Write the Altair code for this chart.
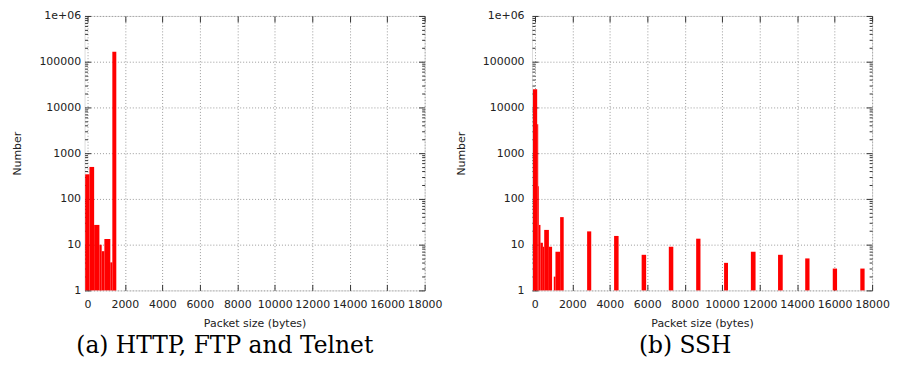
import altair as alt
import pandas as pd

# ---------------- data ----------------
# (a) HTTP, FTP and Telnet : histogram bins (bytes) and counts
a_start = [-117, 111, 361, 642, 764, 907, 1225, 1332]
a_end = [111, 361, 642, 764, 907, 1225, 1332, 1544]
a_count = [345, 500, 27, 10, 7.2, 13.3, 4.1, 165000]

# (b) SSH
b_start = [-100, 125, 180, 220, 300, 430, 500, 750, 1010, 1100, 1350,
           2790, 4230, 5700, 7150, 8610, 10100, 11530, 12980, 14430, 15900, 17370]
b_end = [125, 180, 220, 300, 430, 500, 750, 920, 1100, 1350, 1540,
         3010, 4470, 5940, 7390, 8840, 10310, 11780, 13230, 14660, 16130, 17600]
b_count = [25000, 4300, 190, 27, 11, 9, 21, 9, 2, 7, 40,
           19.5, 15.5, 6, 9, 13.5, 4, 7, 6, 5, 3, 3]

x_major = [0, 2000, 4000, 6000, 8000, 10000, 12000, 14000, 16000, 18000]
y_major = [1, 10, 100, 1000, 10000, 100000, 1000000]
y_minor = [m * 10 ** k for k in range(6) for m in range(2, 10)]

W, H = 342, 276
XDOM = [-150, 18000]
YDOM = [1, 1000000]
TICK = "#333333"
FS = 11
GRID = dict(grid=True, gridColor="#9a9a9a", gridDash=[1, 2], gridWidth=1)
TXT = dict(labelFont="DejaVu Sans", labelFontSize=FS, labelColor="#222222",
           titleFont="DejaVu Sans", titleFontSize=FS, titleFontWeight="normal",
           titleColor="#222222", labelOverlap=False, labelFlush=False)


def panel(start, end, count, caption, dx, label_pad):
    df = pd.DataFrame({"start": start, "end": end, "count": count})
    xs = alt.Scale(domain=XDOM, nice=False, zero=False)
    ys = alt.Scale(type="log", domain=YDOM, nice=False)
    base = alt.Chart(df)

    bars = base.mark_rect(color="#ff0000").encode(
        x=alt.X("start:Q", scale=xs, axis=alt.Axis(
            values=x_major, title="Packet size (bytes)", ticks=False,
            domain=False, labelPadding=8, titlePadding=8, format="d",
            **GRID, **TXT)),
        x2="end:Q",
        y=alt.Y("count:Q", scale=ys, axis=alt.Axis(
            values=y_major, title="Number", ticks=False, domain=False,
            labelPadding=label_pad, titlePadding=16,
            labelExpr="datum.value >= 1000000 ? '1e+06' : format(datum.value, 'd')",
            **GRID, **TXT)),
        y2=alt.Y2Datum(1),
    )

    def ticks(xaxis, yaxis):
        return base.mark_point(opacity=0).encode(
            x=alt.X("start:Q", scale=xs, axis=xaxis),
            y=alt.Y("count:Q", scale=ys, axis=yaxis),
        )

    def tax(orient, values, size):
        return alt.Axis(orient=orient, values=values, offset=-size, tickSize=size,
                        labels=False, domain=False, grid=False, title=None,
                        tickColor=TICK, tickWidth=1)

    l1 = ticks(tax("bottom", x_major, 6), tax("left", y_major, 6))
    l2 = ticks(tax("top", x_major, 6), tax("left", y_minor, 3))
    l3 = ticks(None, tax("right", y_major, 6))
    l4 = ticks(None, tax("right", y_minor, 3))

    return alt.layer(bars, l1, l2, l3, l4).resolve_axis(
        x="independent", y="independent"
    ).properties(
        width=W, height=H,
        title=alt.TitleParams(caption, orient="bottom", anchor="middle", frame="group",
                              dx=dx, offset=6, font="DejaVu Serif", fontSize=23.5,
                              fontWeight="normal", color="black"),
    )


left = panel(a_start, a_end, a_count, "(a) HTTP, FTP and Telnet", -30, 4)
right = panel(b_start, b_end, b_count, "(b) SSH", -17, 8)

chart = alt.hconcat(left, right, spacing=12).properties(
    padding={"left": 3, "top": 0, "right": 0, "bottom": 0}
).configure_view(
    stroke="#333333", strokeWidth=1
).configure(background="white")

chart.save("out.html", embed_options={"renderer": "svg", "actions": False})
